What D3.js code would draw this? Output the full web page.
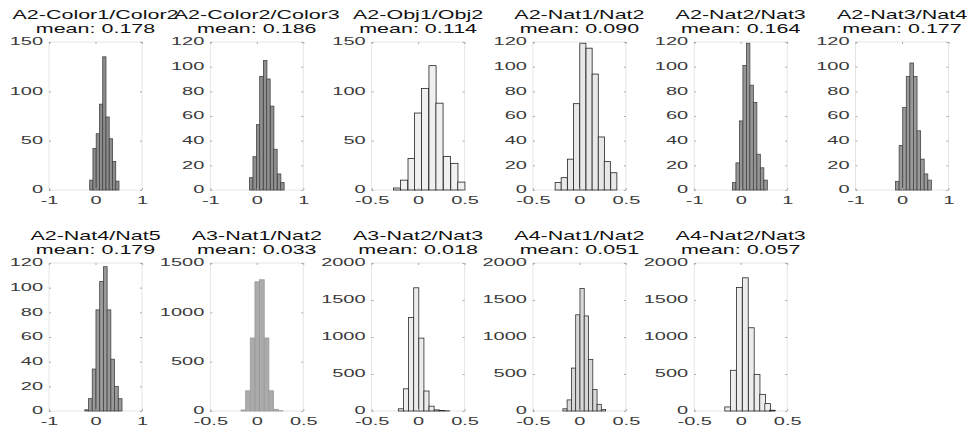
<!DOCTYPE html>
<html>
<head>
<meta charset="utf-8">
<script src="https://cdn.jsdelivr.net/npm/d3@7"></script>
<style>
  body { margin: 0; background: #fff; }
  text { font-family: "Liberation Sans", Arial, sans-serif; }
</style>
</head>
<body>
<svg id="chart" width="967" height="430"></svg>
<script>
// panel titles and means
const titles = ["A2-Color1/Color2", "A2-Color2/Color3", "A2-Obj1/Obj2", "A2-Nat1/Nat2",
  "A2-Nat2/Nat3", "A2-Nat3/Nat4", "A2-Nat4/Nat5", "A3-Nat1/Nat2", "A3-Nat2/Nat3",
  "A4-Nat1/Nat2", "A4-Nat2/Nat3"];
const means = ["0.178", "0.186", "0.114", "0.090", "0.164", "0.177", "0.179",
  "0.033", "0.018", "0.051", "0.057"];

// histogram bins (centers, counts, width)
const binCenters = [
  [-0.09, -0.02, 0.05, 0.12, 0.19, 0.26, 0.33, 0.40, 0.47],
  [-0.12, -0.045, 0.03, 0.10, 0.18, 0.25, 0.33, 0.40, 0.48, 0.55],
  [-0.225, -0.15, -0.07, 0.0, 0.075, 0.155, 0.23, 0.31, 0.39, 0.465],
  [-0.228, -0.163, -0.096, -0.03, 0.037, 0.104, 0.17, 0.236, 0.30, 0.37],
  [-0.14, -0.065, 0.01, 0.085, 0.16, 0.235, 0.31, 0.385, 0.46, 0.535],
  [-0.10, -0.023, 0.054, 0.131, 0.208, 0.285, 0.362, 0.439, 0.516, 0.593],
  [-0.19, -0.11, -0.03, 0.05, 0.13, 0.21, 0.29, 0.37, 0.45, 0.53],
  [-0.145, -0.095, -0.045, 0.005, 0.055, 0.105, 0.155, 0.205, 0.255],
  [-0.185, -0.13, -0.075, -0.02, 0.035, 0.09, 0.145, 0.20, 0.255, 0.31],
  [-0.155, -0.109, -0.063, -0.017, 0.029, 0.075, 0.121, 0.167, 0.213, 0.259],
  [-0.14, -0.078, -0.015, 0.05, 0.114, 0.176, 0.236, 0.29, 0.34]
];
const binCounts = [
  [10, 42, 57, 87, 135, 74, 52, 29, 9],
  [10, 27, 53, 92, 105, 90, 68, 33, 13, 6],
  [2, 10, 32, 78, 103, 126, 88, 34, 27, 8],
  [6, 10, 25, 70, 119, 115, 94, 43, 23, 14],
  [6, 22, 56, 101, 119, 85, 71, 29, 18, 8],
  [7, 36, 67, 92, 103, 92, 48, 25, 13, 8],
  [1, 10, 34, 82, 105, 117, 82, 42, 20, 10],
  [10, 205, 740, 1310, 1330, 740, 205, 17, 3],
  [30, 300, 1265, 1665, 985, 270, 65, 15, 6, 3],
  [30, 150, 580, 1300, 1655, 1285, 695, 290, 90, 20],
  [55, 550, 1670, 1800, 1125, 495, 225, 100, 10]
];
const binWidths = [0.07, 0.075, 0.077, 0.066, 0.075, 0.077, 0.08, 0.05, 0.055, 0.046, 0.062];

// axis limits and ticks
const xDomains = [[-1, 1], [-1, 1], [-0.5, 0.5], [-0.5, 0.5], [-1, 1], [-1, 1],
  [-1, 1], [-0.5, 0.5], [-0.5, 0.5], [-0.5, 0.5], [-0.5, 0.5]];
const xTicks = xDomains.map(d => [d[0], 0, d[1]]);
const xTickLabels = { "-1": "-1", "0": "0", "1": "1", "-0.5": "-0.5", "0.5": "0.5" };
const yMax = [150, 120, 150, 120, 120, 120, 120, 1500, 2000, 2000, 2000];
const yTicks = [
  [0, 50, 100, 150], [0, 20, 40, 60, 80, 100, 120], [0, 50, 100, 150],
  [0, 20, 40, 60, 80, 100, 120], [0, 20, 40, 60, 80, 100, 120],
  [0, 20, 40, 60, 80, 100, 120], [0, 20, 40, 60, 80, 100, 120],
  [0, 500, 1000, 1500], [0, 500, 1000, 1500, 2000],
  [0, 500, 1000, 1500, 2000], [0, 500, 1000, 1500, 2000]
];

// look of the bars (scan greys)
const barFill = ["#8c8c8c", "#8f8f8f", "#f0f0f0", "#e8e8e8", "#969696", "#999",
  "#999", "#ababab", "#ececec", "#d8d8d8", "#ececec"];
const barStroke = ["#444", "#444", "#222", "#222", "#444", "#444",
  "#444", "#9a9a9a", "#2a2a2a", "#333", "#2a2a2a"];

const svg = d3.select("#chart");
const axW = 93, axH = 148;
const colLeft = i => 49 + 161.3 * i;
const rowTop = [42, 263];
const titleSx = 1.72, tickSx = 2.0;

titles.forEach((t, k) => {
  const row = k < 6 ? 0 : 1;
  const col = k < 6 ? k : k - 6;
  const g = svg.append("g")
    .attr("transform", `translate(${colLeft(col)},${rowTop[row]})`);

  const x = d3.scaleLinear().domain(xDomains[k]).range([0, axW]);
  const y = d3.scaleLinear().domain([0, yMax[k]]).range([axH, 0]);

  // faint axes box
  g.append("rect")
    .attr("width", axW).attr("height", axH)
    .attr("fill", "none").attr("stroke", "#e6e6e6");

  const bins = binCenters[k].map((c, i) => ({ c: c, n: binCounts[k][i] }));
  const hw = binWidths[k] / 2;
  g.selectAll("rect.bar").data(bins).join("rect")
    .attr("class", "bar")
    .attr("x", d => x(d.c - hw))
    .attr("width", d => x(d.c + hw) - x(d.c - hw))
    .attr("y", d => y(d.n))
    .attr("height", d => y(0) - y(d.n))
    .attr("fill", barFill[k])
    .attr("stroke", barStroke[k])
    .attr("stroke-width", 0.8);

  // left axis with labels
  const ya = g.append("g")
    .call(d3.axisLeft(y).tickValues(yTicks[k]).tickSize(-2).tickFormat(d3.format("d")));
  // bottom axis with labels
  const xa = g.append("g").attr("transform", `translate(0,${axH})`)
    .call(d3.axisBottom(x).tickValues(xTicks[k]).tickSize(-2)
      .tickFormat(d => xTickLabels[String(d)]));
  // unlabeled ticks on the right and top
  const ra = g.append("g").attr("transform", `translate(${axW},0)`)
    .call(d3.axisRight(y).tickValues(yTicks[k]).tickSize(-2).tickFormat(() => ""));
  const ta = g.append("g")
    .call(d3.axisTop(x).tickValues(xTicks[k]).tickSize(-2).tickFormat(() => ""));

  [ya, xa, ra, ta].forEach(a => {
    a.select(".domain").remove();
    a.selectAll(".tick line").attr("stroke", "#aaa");
  });
  ya.selectAll(".tick text")
    .attr("x", -6 / tickSx)
    .attr("dy", "0.28em")
    .attr("transform", `scale(${tickSx},1)`)
    .attr("font-size", 10).attr("fill", "#3a3a3a")
    .attr("font-family", "'Liberation Sans', Arial, sans-serif");
  xa.selectAll(".tick text")
    .attr("y", 6.5)
    .attr("transform", `scale(${tickSx},1)`)
    .attr("font-size", 10).attr("fill", "#3a3a3a")
    .attr("font-family", "'Liberation Sans', Arial, sans-serif");

  // two-line title
  const tg = g.append("g").attr("transform", `translate(${axW / 2},0)`);
  tg.append("text")
    .attr("y", -27).attr("dy", "0.35em")
    .attr("text-anchor", "middle")
    .attr("transform", `scale(${titleSx},1)`)
    .attr("font-size", 12.5).attr("fill", "#111")
    .text(t);
  tg.append("text")
    .attr("y", -13.5).attr("dy", "0.35em")
    .attr("text-anchor", "middle")
    .attr("transform", `scale(${titleSx},1)`)
    .attr("font-size", 12.5).attr("fill", "#111")
    .text("mean: " + means[k]);
});
</script>
</body>
</html>
